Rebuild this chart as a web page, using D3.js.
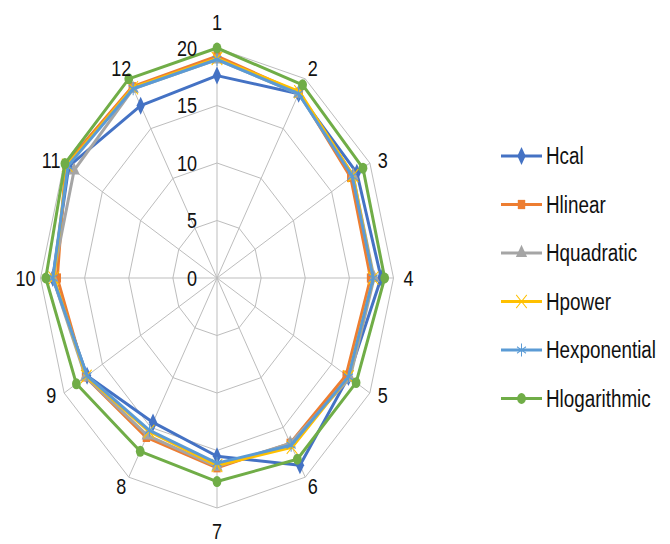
<!DOCTYPE html>
<html>
<head>
<meta charset="utf-8">
<script src="https://cdn.jsdelivr.net/npm/d3@7"></script>
<style>
  body { margin: 0; background: #fff; }
  text { font-family: "Liberation Sans", Arial, sans-serif; fill: #111; }
</style>
</head>
<body>
<div id="chart"></div>
<script>
const width = 670
const height = 544

// data
const categories = ["1", "2", "3", "4", "5", "6", "7", "8", "9", "10", "11", "12"]
const radialTicks = [0, 5, 10, 15, 20]
const seriesNames = ["Hcal", "Hlinear", "Hquadratic", "Hpower", "Hexponential", "Hlogarithmic"]
const hcal         = [17.6, 18.5, 18.3, 18.6, 17.2, 18.8, 15.5, 14.5, 17.0, 18.6, 19.4, 17.3]
const hlinear      = [19.3, 18.6, 17.5, 17.4, 16.9, 16.6, 16.5, 16.0, 17.2, 18.1, 19.8, 19.2]
const hquadratic   = [19.0, 18.5, 17.8, 17.8, 17.4, 16.6, 16.4, 15.8, 17.2, 18.6, 18.7, 19.0]
const hpower       = [19.1, 18.7, 17.8, 17.7, 17.2, 17.0, 16.3, 15.4, 17.1, 18.5, 19.6, 19.1]
const hexponential = [19.0, 18.5, 17.7, 17.7, 17.2, 16.8, 16.1, 15.3, 17.0, 18.6, 19.5, 19.0]
const hlogarithmic = [20.0, 19.4, 19.1, 19.0, 18.2, 18.2, 17.7, 17.4, 18.4, 19.4, 19.9, 20.0]

const seriesValues = [hcal, hlinear, hquadratic, hpower, hexponential, hlogarithmic]
const colors = ["#4472C4", "#ED7D31", "#A5A5A5", "#FFC000", "#5B9BD5", "#70AD47"]
const shapes = ["diamond", "square", "triangle", "x", "star", "circle"]

const cx = 217, cy = 278
const squeeze = 0.82 // narrow text, like the original's condensed face
const rX = d3.scaleLinear().domain([0, 20]).range([0, 176.5])
const rY = d3.scaleLinear().domain([0, 20]).range([0, 230])
const angle = d3.scaleLinear().domain([0, categories.length]).range([0, 2 * Math.PI])

const px = (i, v) => cx + Math.sin(angle(i)) * rX(v)
const py = (i, v) => cy - Math.cos(angle(i)) * rY(v)

const svg = d3.select("div#chart").append("svg").attr("width", width).attr("height", height)
const gridGroup = svg.append("g").attr("class", "gridGroup")
const seriesGroup = svg.append("g").attr("class", "seriesGroup")
const labelGroup = svg.append("g").attr("class", "labelGroup")
const legendGroup = svg.append("g").attr("class", "legendGroup").attr("transform", "translate(501, 156)")

// rings
const ring = d3.line().x(d => px(d.i, d.v)).y(d => py(d.i, d.v)).curve(d3.curveLinearClosed)
gridGroup.selectAll(".ring").data(radialTicks.filter(t => t > 0)).enter()
  .append("path")
  .attr("class", "ring")
  .attr("d", t => ring(categories.map((c, i) => ({ i: i, v: t }))))
  .attr("fill", "none")
  .attr("stroke", "#bdbdbd")
  .attr("stroke-width", 1)

// spokes
gridGroup.selectAll(".spoke").data(categories).enter()
  .append("line")
  .attr("class", "spoke")
  .attr("x1", cx).attr("y1", cy)
  .attr("x2", (c, i) => px(i, 20))
  .attr("y2", (c, i) => py(i, 20))
  .attr("stroke", "#bdbdbd")
  .attr("stroke-width", 1)

// radial tick labels
labelGroup.selectAll(".tick").data(radialTicks).enter()
  .append("g")
  .attr("class", "tick")
  .attr("transform", t => `translate(${cx - 20}, ${py(0, t)}) scale(${squeeze}, 1)`)
  .append("text")
  .attr("text-anchor", "end")
  .attr("dominant-baseline", "central")
  .attr("font-size", 22)
  .text(t => t)

// category labels
labelGroup.selectAll(".cat").data(categories).enter()
  .append("g")
  .attr("class", "cat")
  .attr("transform", (c, i) => {
    const cs = Math.cos(angle(i))
    const extra = cs > 0 ? 21 : 18
    const x = cx + Math.sin(angle(i)) * (rX(20) + 15)
    const y = cy - cs * (rY(20) + 5 + extra * Math.pow(cs, 8))
    return `translate(${x}, ${y}) scale(${squeeze}, 1)`
  })
  .append("text")
  .attr("text-anchor", "middle")
  .attr("dominant-baseline", "central")
  .attr("font-size", 22)
  .text(c => c)

function marker(sel, shape, color) {
  const sym = {
    diamond: d3.symbolDiamond, square: d3.symbolSquare, triangle: d3.symbolTriangle,
    circle: d3.symbolCircle, x: d3.symbolX, star: d3.symbolAsterisk
  }[shape]
  const size = shape === "diamond" ? 60 : shape === "circle" ? 60 : shape === "square" ? 55 : shape === "triangle" ? 55 : 75
  const open = shape === "x" || shape === "star"
  sel.append("path")
    .attr("d", d3.symbol().type(sym).size(size)())
    .attr("transform", "scale(1,1.25)")
    .attr("fill", open ? "none" : color)
    .attr("stroke", open ? color : "none")
    .attr("stroke-width", 1)
}

// series
const line = d3.line().x((v, i) => px(i, v)).y((v, i) => py(i, v)).curve(d3.curveLinearClosed)
seriesValues.forEach((vals, s) => {
  const g = seriesGroup.append("g").attr("class", "series")
  g.append("path")
    .attr("d", line(vals))
    .attr("fill", "none")
    .attr("stroke", colors[s])
    .attr("stroke-width", 3)
    .attr("stroke-linejoin", "round")
  g.selectAll(".pt").data(vals).enter()
    .append("g")
    .attr("class", "pt")
    .attr("transform", (v, i) => `translate(${px(i, v)}, ${py(i, v)})`)
    .each(function () { marker(d3.select(this), shapes[s], colors[s]) })
})

// legend
const items = legendGroup.selectAll(".item").data(seriesNames).enter()
  .append("g")
  .attr("class", "item")
  .attr("transform", (d, i) => `translate(0, ${i * 48.5})`)
items.append("line")
  .attr("x1", 0).attr("x2", 41).attr("y1", 0).attr("y2", 0)
  .attr("stroke", (d, i) => colors[i])
  .attr("stroke-width", 3)
items.append("g")
  .attr("transform", "translate(20.5, 0)")
  .each(function (d, i) { marker(d3.select(this), shapes[i], colors[i]) })
items.append("g")
  .attr("transform", `translate(45, 0) scale(${squeeze}, 1)`)
  .append("text")
  .attr("dominant-baseline", "central")
  .attr("font-size", 23)
  .text(d => d)
</script>
</body>
</html>
